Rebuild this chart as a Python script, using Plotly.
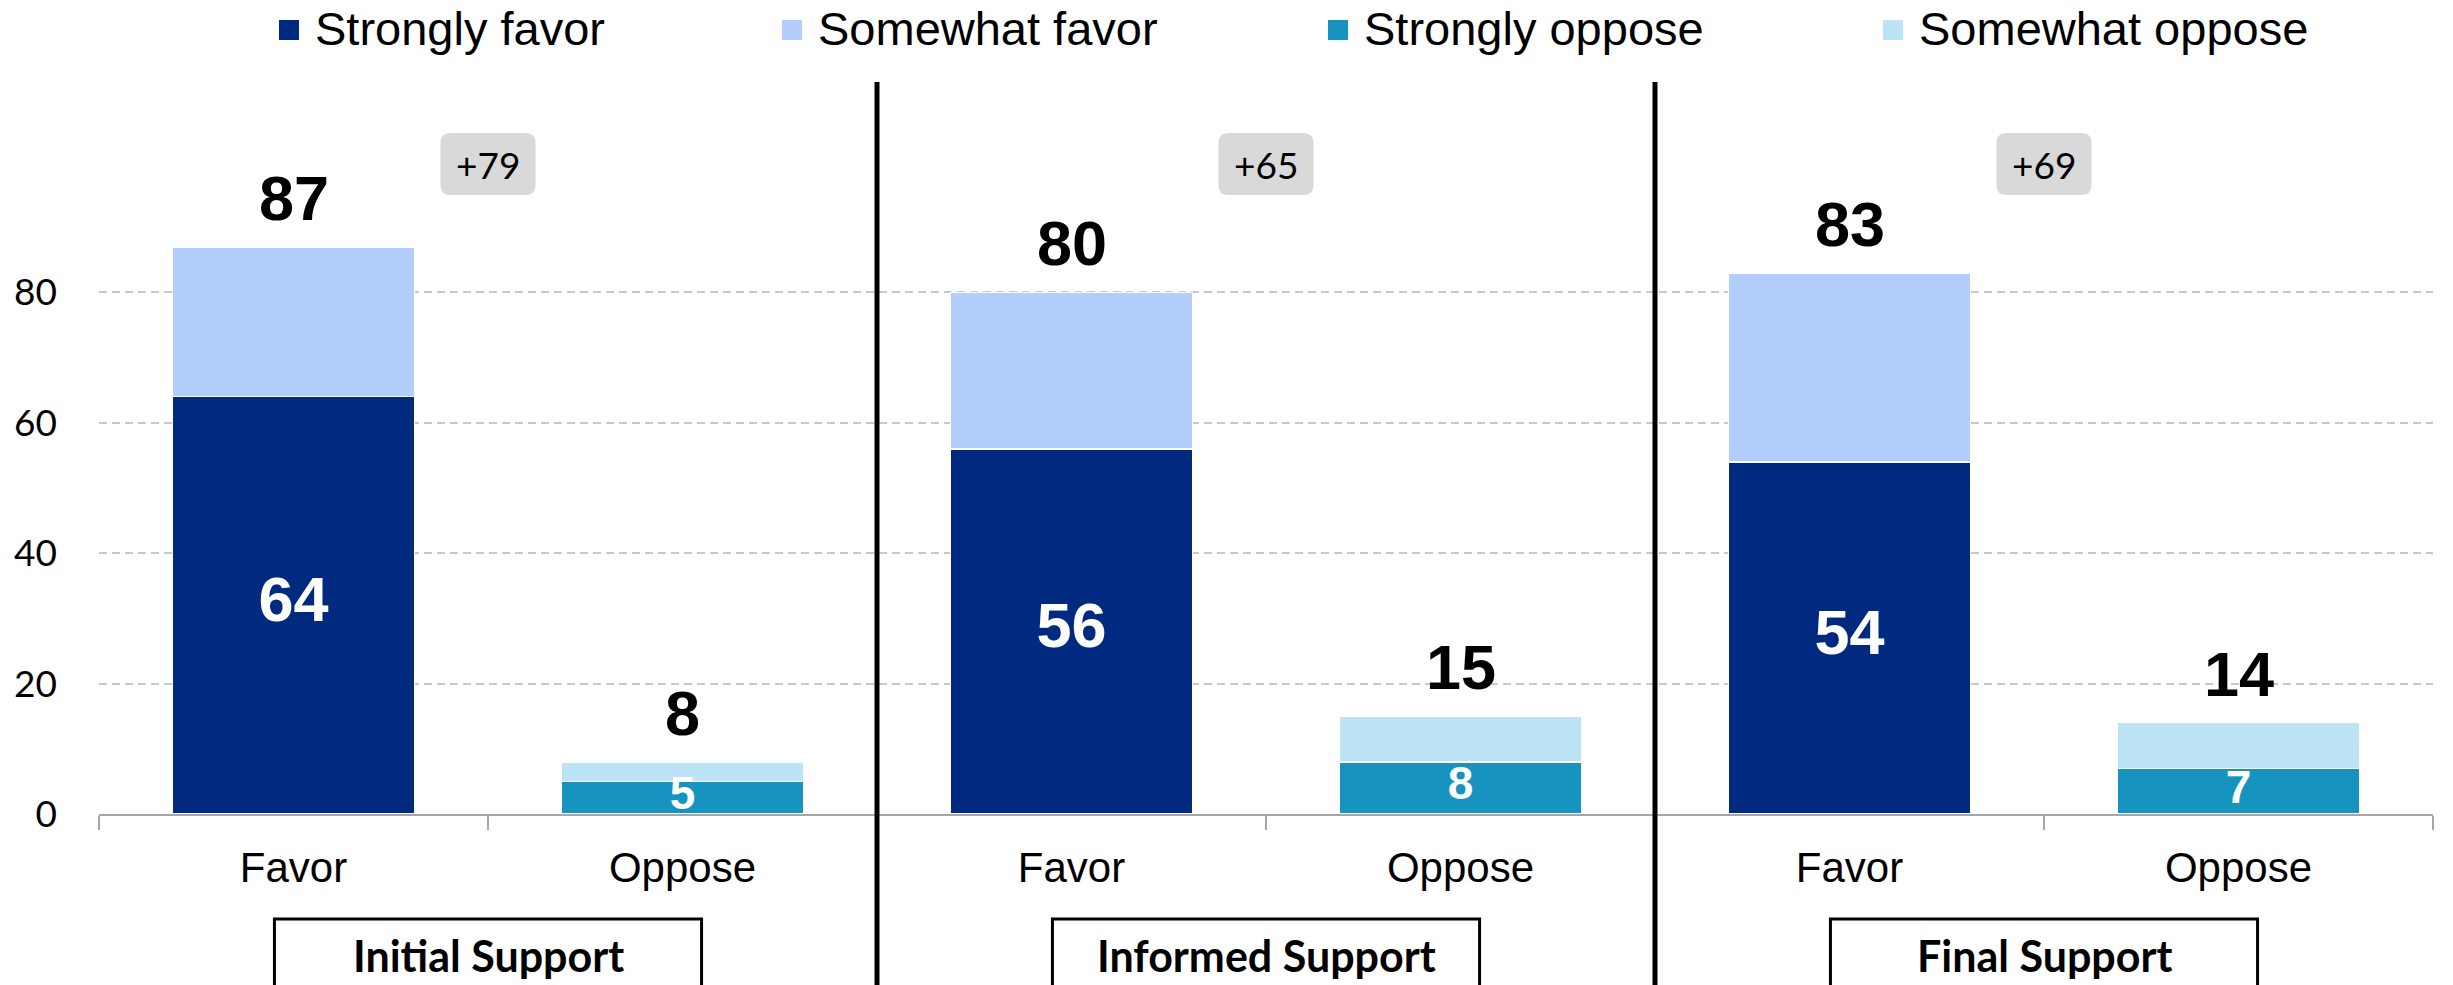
import plotly.graph_objects as go

# ---- data -------------------------------------------------------------
groups = ["Initial Support", "Informed Support", "Final Support"]
sides = ["Favor", "Oppose"]

strongly_favor = [64, 56, 54]
somewhat_favor = [23, 24, 29]
strongly_oppose = [5, 8, 7]
somewhat_oppose = [3, 7, 7]

favor_total = [87, 80, 83]
oppose_total = [8, 15, 14]
net_margin = ["+79", "+65", "+69"]

y_ticks = [0, 20, 40, 60, 80]

# ---- styling ----------------------------------------------------------
C_SF = "#002a80"
C_WF = "#b3cdfd"
C_SO = "#1793c0"
C_WO = "#bde3f7"
ARIAL = "Liberation Sans, Arial, sans-serif"
CALIBRI = "Lato, Open Sans, sans-serif"

W, H = 2453, 985
ML, MR, MT, MB = 99, 20, 162, 171
PW, PH = W - ML - MR, H - MT - MB


def fx(p):
    """pixel column -> paper x"""
    return (p - ML) / PW


def fy(p):
    """pixel row -> paper y"""
    return (H - MB - p) / PH


x_favor = [2 * i for i in range(len(groups))]
x_oppose = [2 * i + 1 for i in range(len(groups))]
tick_vals = sorted(x_favor + x_oppose)
tick_text = [sides[v % 2] for v in tick_vals]

fig = go.Figure()

bar_line = dict(color="white", width=1.5)
fig.add_trace(go.Bar(x=x_favor, y=strongly_favor, name="Strongly favor",
                     marker=dict(color=C_SF, line=bar_line)))
fig.add_trace(go.Bar(x=x_favor, y=somewhat_favor, name="Somewhat favor",
                     marker=dict(color=C_WF, line=bar_line)))
fig.add_trace(go.Bar(x=x_oppose, y=strongly_oppose, name="Strongly oppose",
                     marker=dict(color=C_SO, line=bar_line)))
fig.add_trace(go.Bar(x=x_oppose, y=somewhat_oppose, name="Somewhat oppose",
                     marker=dict(color=C_WO, line=bar_line)))

# white value labels centred in the "strongly" segments
inner_x = x_favor + x_oppose
inner_v = strongly_favor + strongly_oppose
fig.add_trace(go.Scatter(
    x=inner_x, y=[v / 2 for v in inner_v], mode="text",
    text=[str(v) for v in inner_v],
    textfont=dict(color="white", family=ARIAL, weight="bold",
                  size=[63] * len(strongly_favor) + [46] * len(strongly_oppose)),
    textposition="middle center", cliponaxis=False, hoverinfo="skip"))

annotations = []
shapes = []

# totals above each stacked bar
for xs, totals in ((x_favor, favor_total), (x_oppose, oppose_total)):
    for x, t in zip(xs, totals):
        annotations.append(dict(x=x, y=t, xref="x", yref="y", text=f"<b>{t}</b>",
                                showarrow=False, xanchor="center", yanchor="bottom", yshift=12,
                                font=dict(family=ARIAL, size=63, color="black")))

# net-margin badges and boxed group captions
r = 10
bw, bh = 47.5, 31
badge_path = (f"M {-bw + r},{-bh} L {bw - r},{-bh} Q {bw},{-bh} {bw},{-bh + r} "
              f"L {bw},{bh - r} Q {bw},{bh} {bw - r},{bh} L {-bw + r},{bh} "
              f"Q {-bw},{bh} {-bw},{bh - r} L {-bw},{-bh + r} Q {-bw},{-bh} {-bw + r},{-bh} Z")
for i, g in enumerate(groups):
    mid = 2 * i + 0.5
    shapes.append(dict(type="path", xref="x", yref="paper", xsizemode="pixel",
                       ysizemode="pixel", xanchor=mid, yanchor=fy(164),
                       path=badge_path, fillcolor="#d9d9d9", line=dict(width=0),
                       layer="above"))
    annotations.append(dict(x=mid, y=fy(165), xref="x", yref="paper", text=net_margin[i],
                            showarrow=False, xanchor="center", yanchor="middle",
                            font=dict(family=CALIBRI, size=37, color="black")))
    shapes.append(dict(type="rect", xref="x", yref="paper", x0=mid - 0.549, x1=mid + 0.549,
                       y0=fy(992), y1=fy(919), line=dict(color="black", width=3),
                       fillcolor="rgba(0,0,0,0)"))
    annotations.append(dict(x=mid, y=fy(955), xref="x", yref="paper", text=f"<b>{g}</b>",
                            showarrow=False, xanchor="center", yanchor="middle",
                            font=dict(family=CALIBRI, size=43, color="black")))

# vertical separators between the phases
for i in range(1, len(groups)):
    xb = 2 * i - 0.5
    shapes.append(dict(type="line", xref="x", yref="paper", x0=xb, x1=xb,
                       y0=fy(990), y1=fy(82), line=dict(color="black", width=5),
                       layer="above"))

# legend row
legend_items = [("Strongly favor", C_SF, 289), ("Somewhat favor", C_WF, 792),
                ("Strongly oppose", C_SO, 1338), ("Somewhat oppose", C_WO, 1893)]
for label, col, cx in legend_items:
    shapes.append(dict(type="rect", xref="paper", yref="paper",
                       x0=fx(cx - 10), x1=fx(cx + 10), y0=fy(40), y1=fy(20),
                       fillcolor=col, line=dict(width=0)))
    annotations.append(dict(x=fx(cx + 24), y=fy(29), xref="paper", yref="paper",
                            xanchor="left", yanchor="middle", text=label, showarrow=False,
                            font=dict(family=ARIAL, size=47, color="black")))

fig.update_layout(
    width=W, height=H, autosize=False,
    margin=dict(l=ML, r=MR, t=MT, b=MB, pad=0),
    barmode="stack", bargap=0.378,
    plot_bgcolor="white", paper_bgcolor="white",
    showlegend=False,
    shapes=shapes, annotations=annotations,
    xaxis=dict(range=[-0.5, len(tick_vals) - 0.5], tickmode="array",
               tickvals=tick_vals, ticktext=tick_text, ticks="",
               ticklabelstandoff=16,
               tickfont=dict(family=ARIAL, size=42, color="black"),
               showline=True, linecolor="#a6a6a6", linewidth=2,
               showgrid=False, zeroline=False,
               minor=dict(tickmode="array",
                          tickvals=[v - 0.5 for v in tick_vals] + [tick_vals[-1] + 0.5],
                          ticks="outside", ticklen=14, tickwidth=2, tickcolor="#a6a6a6",
                          showgrid=False)),
    yaxis=dict(range=[0, 100], tickmode="array", tickvals=y_ticks,
               ticks="", ticklabelstandoff=41,
               tickfont=dict(family=CALIBRI, size=37, color="black"),
               showgrid=True, gridcolor="#c8c8c8", gridwidth=2, griddash="8px,5px",
               showline=False, zeroline=False),
)

fig.write_html("out.html")
